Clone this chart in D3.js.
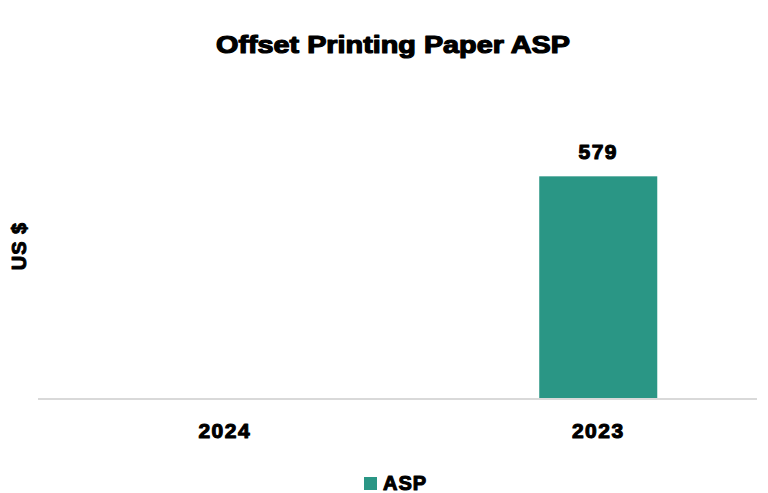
<!DOCTYPE html>
<html>
<head>
<meta charset="utf-8">
<script src="https://cdn.jsdelivr.net/npm/d3@7"></script>
<style>
  html, body { margin: 0; padding: 0; background: #fff; }
  text { font-family: "Liberation Sans", Arial, sans-serif; font-weight: bold; fill: #000; }
</style>
</head>
<body>
<svg id="chart"></svg>
<script>
const categories = ["2024", "2023"];
const aspValues = [null, 579];
const seriesName = "ASP";
const yLabel = "US $";
const title = "Offset Printing Paper ASP";

const width = 768, height = 493;
const barColor = "#2a9685";

const svg = d3.select("#chart").attr("width", width).attr("height", height);

// x band: two categories, narrow bars
const x = d3.scaleBand()
    .domain(categories)
    .range([38, 785])
    .paddingInner(0.684)
    .paddingOuter(0.342);

const y = d3.scaleLinear().domain([0, 700]).range([398, 130]);

// heavy text helper (imitates Arial Black)
function heavy(sel, size, stroke, spacing) {
    return sel.style("font-size", size + "px")
        .style("stroke", "#000")
        .style("stroke-width", stroke + "px")
        .style("stroke-linejoin", "round")
        .style("letter-spacing", (spacing || 0) + "px");
}

// titre
heavy(svg.append("text")
    .attr("x", 393).attr("y", 53)
    .attr("text-anchor", "middle")
    .attr("textLength", 354)
    .attr("lengthAdjust", "spacingAndGlyphs")
    .text(title), 24, 1.2);

// label axe Y
heavy(svg.append("text")
    .attr("transform", "translate(26,246) rotate(-90)")
    .attr("text-anchor", "middle")
    .text(yLabel), 20, 1.0, 1);

const data = categories.map((c, i) => ({ cat: c, v: aspValues[i] }));

// barres
svg.selectAll("rect.bar")
    .data(data.filter(d => d.v != null))
    .enter()
    .append("rect")
    .attr("class", "bar")
    .attr("x", d => x(d.cat))
    .attr("y", d => y(d.v))
    .attr("width", x.bandwidth())
    .attr("height", d => y(0) - y(d.v))
    .attr("fill", barColor);

// valeurs
heavy(svg.selectAll("text.val")
    .data(data.filter(d => d.v != null))
    .enter()
    .append("text")
    .attr("class", "val")
    .attr("x", d => x(d.cat) + x.bandwidth() / 2)
    .attr("y", d => y(d.v) - 17)
    .attr("text-anchor", "middle")
    .text(d => d.v), 21, 1.1, 1.5);

// ligne de base
svg.append("line")
    .attr("x1", 38).attr("x2", 757)
    .attr("y1", y(0) + 1).attr("y2", y(0) + 1)
    .attr("stroke", "#d9d9d9").attr("stroke-width", 2);

// axe X
const xAxis = svg.append("g")
    .attr("transform", `translate(0,${y(0)})`)
    .call(d3.axisBottom(x).tickSize(0).tickPadding(25));
xAxis.select(".domain").remove();
heavy(xAxis.selectAll("text")
    .style("font-family", "'Liberation Sans', Arial, sans-serif")
    .style("font-weight", "bold")
    .attr("fill", "#000"), 21, 1.1, 1.5);

// légende
const legend = svg.append("g").attr("transform", "translate(364,477)");
legend.append("rect").attr("width", 13).attr("height", 13).attr("fill", barColor);
heavy(legend.append("text")
    .attr("x", 19).attr("y", 13)
    .text(seriesName), 20, 1.1, 1);
</script>
</body>
</html>
